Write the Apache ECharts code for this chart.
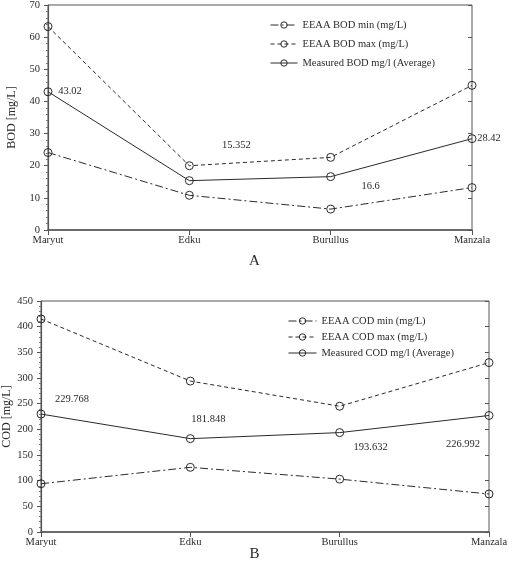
<!DOCTYPE html>
<html><head><meta charset="utf-8">
<script src="https://cdn.jsdelivr.net/npm/echarts@6/dist/echarts.min.js"></script>
<style>html,body{margin:0;padding:0;background:#fff}#c{width:509px;height:563px}</style>
</head><body><div id="c"></div>
<script>
const categories = ['Maryut', 'Edku', 'Burullus', 'Manzala'];
const bodMin = [24.1, 10.8, 6.5, 13.2];
const bodMax = [63.3, 20, 22.6, 45];
const bodAvg = [43.02, 15.352, 16.6, 28.42];
const codMin = [94, 126, 103, 74];
const codMax = [415, 294, 245, 330];
const codAvg = [229.768, 181.848, 193.632, 226.992];
const bodTicks = { min: 0, max: 70, interval: 10 };
const codTicks = { min: 0, max: 450, interval: 50 };

const FONT = 'Liberation Serif';
const INK = '#2a2a2a';
const chart = echarts.init(document.getElementById('c'), null, { renderer: 'canvas' });

const dashDot = [8, 3, 2, 3];
const dashed = [4, 3];

function lineSeries(name, data, dash, xi, yi, labels) {
  return {
    type: 'line', name: name, data: data.map((v, i) => {
      const d = { value: v };
      if (labels) {
        d.label = { show: true, offset: labels[i], position: 'inside', formatter: String(v) };
      }
      return d;
    }),
    xAxisIndex: xi, yAxisIndex: yi,
    symbol: 'circle', symbolSize: 8,
    itemStyle: { color: 'rgba(255,255,255,0)', borderColor: INK, borderWidth: 1 },
    lineStyle: { color: INK, width: 1, type: dash },
    label: { fontFamily: FONT, fontSize: 10.5, color: INK },
    emphasis: { disabled: true },
    animation: false, z: 3
  };
}

function yAxes(gi, ticks, name, gap) {
  return [{
    gridIndex: gi, type: 'value', min: ticks.min, max: ticks.max, interval: ticks.interval,
    name: name, nameLocation: 'middle', nameGap: gap, nameRotate: 90, nameMoveOverlap: false,
    nameTextStyle: { fontFamily: FONT, fontSize: 12, color: INK },
    axisLine: { show: true, lineStyle: { color: '#555', width: 1.2 } },
    axisTick: { show: true, inside: false, length: 4, lineStyle: { color: '#555' } },
    minorTick: { show: true, splitNumber: 5, length: 2, lineStyle: { color: '#777' } },
    splitLine: { show: false },
    axisLabel: { fontFamily: FONT, fontSize: 10.5, color: INK, margin: 8 }
  }, {
    gridIndex: gi, type: 'value', min: ticks.min, max: ticks.max, interval: ticks.interval,
    axisLine: { show: false },
    axisTick: { show: true, inside: true, length: 4, lineStyle: { color: '#555' } },
    minorTick: { show: false },
    splitLine: { show: false },
    axisLabel: { show: false }
  }];
}

function xAxis(gi) {
  return {
    gridIndex: gi, type: 'category', data: categories, boundaryGap: false,
    axisLine: { show: true, lineStyle: { color: '#555', width: 1.6 } },
    axisTick: { show: true, length: 5, lineStyle: { color: '#555' } },
    axisLabel: { fontFamily: FONT, fontSize: 10.5, color: INK, margin: 5 },
    splitLine: { show: false }
  };
}

const yA = yAxes(0, bodTicks, 'BOD [mg/L]', 30);
const yB = yAxes(1, codTicks, 'COD [mg/L]', 28);

const legendCommon = {
  orient: 'vertical', itemHeight: 8, padding: 0,
  textStyle: { fontFamily: FONT, fontSize: 10.5, color: INK, lineHeight: 14 },
  lineStyle: { width: 1 },
  itemStyle: { borderWidth: 1, color: 'rgba(255,255,255,0)', borderColor: INK }
};

chart.setOption({
  animation: false,
  backgroundColor: '#fff',
  grid: [
    { left: 48, top: 5, width: 424, height: 225, containLabel: false, outerBoundsMode: 'none', show: true, borderColor: '#555', borderWidth: 1, backgroundColor: 'transparent' },
    { left: 41, top: 301, width: 448, height: 231, containLabel: false, outerBoundsMode: 'none', show: true, borderColor: '#555', borderWidth: 1, backgroundColor: 'transparent' }
  ],
  xAxis: [xAxis(0), xAxis(1)],
  yAxis: [yA[0], yA[1], yB[0], yB[1]],
  legend: [
    Object.assign({}, legendCommon, { left: 270, top: 18, itemGap: 5, itemWidth: 27,
      data: ['EEAA BOD min (mg/L)', 'EEAA BOD max (mg/L)', 'Measured BOD mg/l (Average)'] }),
    Object.assign({}, legendCommon, { left: 288, top: 314, itemGap: 2, itemWidth: 28,
      data: ['EEAA COD min (mg/L)', 'EEAA COD max (mg/L)', 'Measured COD mg/l (Average)'] })
  ],
  graphic: [
    { type: 'text', left: 'center', top: 254, style: { text: 'A', fontFamily: FONT, fontSize: 15, fill: INK } },
    { type: 'text', left: 'center', top: 547, style: { text: 'B', fontFamily: FONT, fontSize: 15, fill: INK } }
  ],
  series: [
    lineSeries('EEAA BOD min (mg/L)', bodMin, dashDot, 0, 0),
    lineSeries('EEAA BOD max (mg/L)', bodMax, dashed, 0, 0),
    lineSeries('Measured BOD mg/l (Average)', bodAvg, 'solid', 0, 0, [[22, 0], [47, -35], [40, 10], [17, 0]]),
    lineSeries('EEAA COD min (mg/L)', codMin, dashDot, 1, 2),
    lineSeries('EEAA COD max (mg/L)', codMax, dashed, 1, 2),
    lineSeries('Measured COD mg/l (Average)', codAvg, 'solid', 1, 2, [[31, -15], [18, -19], [31, 15], [-26, 29]])
  ]
});
</script></body></html>
